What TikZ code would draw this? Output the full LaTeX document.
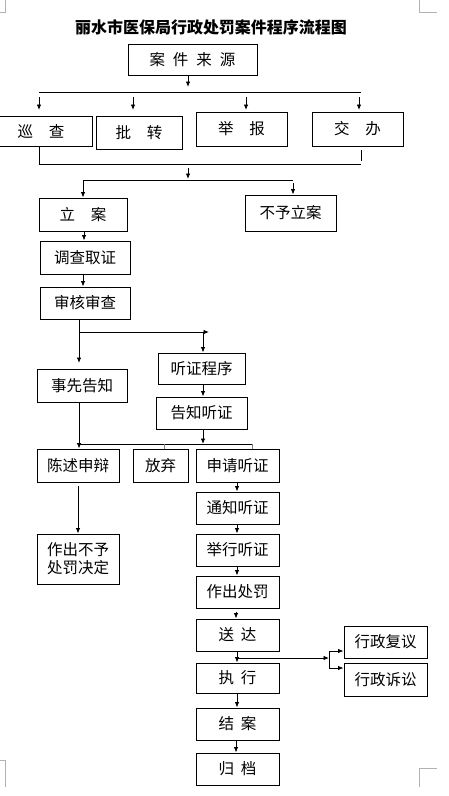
\documentclass[tikz,border=0pt]{standalone}
\usepackage{fontspec}
\setmainfont{Noto Sans CJK SC}
\usetikzlibrary{arrows.meta}
\begin{document}
\begin{tikzpicture}[x=1pt,y=-1pt,
  box/.style={draw=black, line width=0.9pt, inner sep=0pt, font=\fontsize{15.5}{18}\selectfont, align=center},
  arr/.style={line width=0.9pt, -{Latex[length=5.5pt,width=4.5pt]}},
  ln/.style={line width=0.9pt},
  tick/.style={line width=0.9pt, draw=gray},
  crop/.style={line width=0.8pt, draw=gray!60}]
\useasboundingbox (0,0) rectangle (448,796);
% crop marks
\draw[crop] (0,12) -- (5,12) -- (5,0);
\draw[crop] (419,0) -- (419,12) -- (437,12);
\draw[crop] (0,760) -- (5,760) -- (5,787);
\draw[crop] (437,768) -- (419,768) -- (419,787);
% title
\node[font=\fontsize{16}{19}\selectfont\bfseries] (title) at (211,27) {丽水市医保局行政处罚案件程序流程图};
% boxes
\node[box, minimum width=129pt, minimum height=31pt] (src) at (192.5,59.5) {案\hspace{8pt}件\hspace{8pt}来\hspace{8pt}源};
\node[box, minimum width=102pt, minimum height=30pt] (xc) at (41,131) {巡\hspace{16pt}查};
\node[box, minimum width=86pt, minimum height=33pt] (pz) at (139,132.5) {批\hspace{16pt}转};
\node[box, minimum width=91pt, minimum height=34pt] (jb) at (241.5,129) {举\hspace{16pt}报};
\node[box, minimum width=91pt, minimum height=34pt] (jbn) at (357.5,129) {交\hspace{16pt}办};
\node[box, minimum width=88pt, minimum height=33pt] (la) at (83,214.5) {立\hspace{16pt}案};
\node[box, minimum width=91pt, minimum height=36pt] (byla) at (290.5,213) {不予立案};
\node[box, minimum width=90pt, minimum height=33pt] (dc) at (85,257.5) {调查取证};
\node[box, minimum width=90pt, minimum height=32pt] (sh) at (85,303) {审核审查};
\node[box, minimum width=90pt, minimum height=33pt] (sx) at (82,385.5) {事先告知};
\node[box, minimum width=87pt, minimum height=31pt] (tz) at (201.5,368.5) {听证程序};
\node[box, minimum width=91pt, minimum height=32pt] (gz) at (201.5,413) {告知听证};
\node[box, minimum width=82pt, minimum height=33pt] (cs) at (78,465.5) {陈述申辩};
\node[box, minimum width=55pt, minimum height=33pt] (fq) at (160.5,465.5) {放弃};
\node[box, minimum width=83pt, minimum height=33pt] (sq) at (237.5,465.5) {申请听证};
\node[box, minimum width=82pt, minimum height=50pt] (zc) at (78,559) {作出不予\\处罚决定};
\node[box, minimum width=83pt, minimum height=32pt] (tzt) at (237.5,508) {通知听证};
\node[box, minimum width=83pt, minimum height=32pt] (jx) at (237.5,550) {举行听证};
\node[box, minimum width=83pt, minimum height=32pt] (zccf) at (237.5,592) {作出处罚};
\node[box, minimum width=83pt, minimum height=32pt] (sd) at (237.5,635) {送\hspace{7pt}达};
\node[box, minimum width=83pt, minimum height=30pt] (zx) at (237.5,678) {执\hspace{7pt}行};
\node[box, minimum width=83pt, minimum height=32pt] (ja) at (237.5,724) {结\hspace{7pt}案};
\node[box, minimum width=83pt, minimum height=32pt] (gd) at (237.5,769) {归\hspace{7pt}档};
\node[box, minimum width=83pt, minimum height=32pt] (fy) at (385.5,642) {行政复议};
\node[box, minimum width=83pt, minimum height=33pt] (ss) at (385.5,679.5) {行政诉讼};
% connectors
\coordinate (h1) at (188,87);
\draw[arr] (188,0 |- src.south) -- (h1);
\coordinate (bl) at (39,92); \coordinate (br) at (361,92);
\draw[ln] (bl) -- (br);
\foreach \x in {39,133,246,359} \draw[arr] (\x,97) -- (\x,110);
\draw[ln] (39,0 |- xc.south) -- (39,164) -- (361,164);
\draw[ln] (361,150) -- (361,161);
\draw[arr] (188,168) -- (188,179);
\draw[ln] (83,180) -- (293,180);
\draw[arr] (83,180) -- (83,0 |- la.north);
\draw[arr] (293,183) -- (293,0 |- byla.north);
\draw[arr] (84,0 |- la.south) -- (84,0 |- dc.north);
\draw[arr] (83,0 |- dc.south) -- (83,0 |- sh.north);
\draw[arr] (79,0 |- sh.south) -- (79,363);
\draw[arr] (79,332) -- (209,332);
\draw[arr] (203,332) -- (203,0 |- tz.north);
\draw[arr] (203,0 |- tz.south) -- (203,0 |- gz.north);
\draw[arr] (79,0 |- sx.south) -- (79,0 |- cs.north);
\draw[ln] (79,444) -- (252,444);
\draw[arr] (203,0 |- gz.south) -- (203,444);
\draw[tick] (164,444) -- (164,0 |- fq.north);
\draw[tick] (252,444) -- (252,0 |- sq.north);
\draw[arr] (78,486) -- (78,0 |- zc.north);
\draw[arr] (237,0 |- sq.south) -- (237,0 |- tzt.north);
\draw[arr] (237,0 |- tzt.south) -- (237,0 |- jx.north);
\draw[arr] (237,0 |- jx.south) -- (237,0 |- zccf.north);
\draw[arr] (236,612) -- (236,0 |- sd.north);
\draw[arr] (237,0 |- sd.south) -- (237,0 |- zx.north);
\draw[arr] (237,0 |- zx.south) -- (237,0 |- ja.north);
\draw[arr] (236,0 |- ja.south) -- (236,0 |- gd.north);
\draw[arr] (237,658) -- (329,658);
\draw[ln] (329,652) -- (329,669);
\draw[arr] (329,651) -- (fy.west |- 329,651);
\draw[arr] (329,668) -- (ss.west |- 329,668);
\end{tikzpicture}
\end{document}
